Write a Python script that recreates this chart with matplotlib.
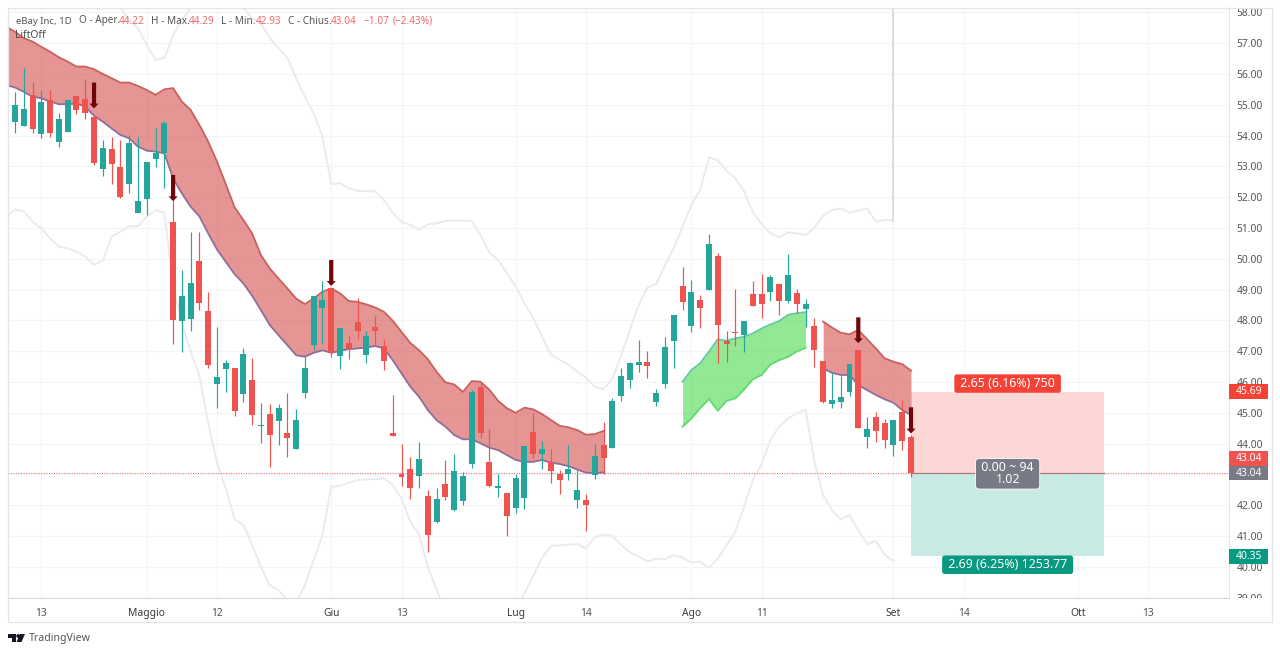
import numpy as np
import matplotlib
matplotlib.use("Agg")
import matplotlib.pyplot as plt
from matplotlib.patches import Rectangle, Polygon, Circle
from matplotlib.transforms import IdentityTransform, Bbox

plt.rcParams["font.family"] = ["Noto Sans", "DejaVu Sans"]

# candles, one row per day
opens = [53.95, 54.45, 54.32, 55.32, 54.04, 55.17, 53.79, 54.13, 55.28, 55.20,
         54.59, 52.90, 53.55, 52.97, 52.44, 51.48, 51.93, 53.24, 53.44, 51.19,
         47.98, 48.06, 49.94, 48.29, 45.94, 46.42, 46.46, 45.61, 46.06, 44.57,
         44.95, 44.72, 44.36, 43.83, 45.63, 47.20, 48.39, 49.04, 46.84, 47.28,
         47.96, 46.87, 47.79, 47.18, 44.34, 43.01, 43.18, 42.95, 42.30, 41.45,
         42.68, 41.85, 42.13, 43.33, 45.85, 43.39, 42.56, 42.40, 41.92, 42.24,
         44.37, 43.68, 43.41, 43.00, 43.02, 42.17, 42.18, 42.98, 43.95, 43.87,
         45.56, 46.07, 46.56, 46.66, 45.36, 45.92, 47.34, 49.12, 47.81, 48.66,
         48.99, 50.09, 47.33, 47.61, 47.53, 48.86, 48.86, 48.93, 49.17, 48.64,
         48.88, 48.37, 47.83, 46.68, 45.30, 45.36, 45.69, 47.03, 44.21, 44.85,
         44.68, 43.97, 45.04, 44.22]
highs = [54.34, 55.42, 56.18, 55.75, 55.48, 55.48, 54.72, 55.15, 55.28, 55.84,
         54.60, 53.85, 53.94, 53.85, 54.02, 53.96, 53.14, 54.23, 54.48, 51.90,
         49.63, 50.88, 50.86, 48.93, 47.79, 46.73, 46.46, 47.09, 46.77, 45.33,
         45.28, 45.30, 45.63, 45.12, 46.82, 48.79, 49.28, 49.04, 47.74, 47.52,
         48.73, 47.66, 48.14, 47.41, 45.58, 43.99, 43.58, 44.04, 42.49, 42.55,
         43.47, 43.65, 43.09, 45.74, 45.96, 44.46, 43.03, 42.40, 43.03, 43.92,
         44.98, 44.08, 43.81, 43.14, 43.95, 43.14, 42.35, 43.98, 44.71, 45.47,
         46.44, 46.66, 47.36, 47.02, 45.77, 47.47, 48.19, 49.72, 49.31, 48.83,
         50.81, 50.18, 47.66, 49.01, 47.99, 49.28, 49.50, 49.47, 49.17, 50.15,
         49.02, 48.68, 48.07, 46.68, 46.28, 46.20, 46.57, 47.03, 44.85, 45.04,
         44.79, 44.77, 45.42, 44.29]
lows = [53.85, 54.07, 54.32, 54.07, 53.93, 53.94, 53.64, 54.13, 54.70, 54.53,
        53.04, 52.69, 52.43, 51.96, 52.12, 51.48, 51.42, 52.99, 52.29, 47.25,
        46.98, 47.65, 48.33, 46.46, 45.17, 45.68, 44.90, 45.36, 44.60, 44.01,
        43.25, 43.95, 43.57, 43.83, 45.47, 47.03, 47.25, 46.80, 46.42, 46.74,
        47.41, 46.63, 47.25, 46.39, 44.25, 42.62, 42.19, 42.56, 40.49, 41.41,
        42.17, 41.82, 42.02, 43.20, 44.19, 42.58, 42.28, 41.00, 41.74, 41.87,
        43.52, 43.17, 42.71, 42.35, 42.83, 41.91, 41.17, 42.84, 43.03, 43.87,
        45.38, 45.80, 46.33, 46.12, 45.23, 45.82, 46.44, 48.34, 47.61, 47.74,
        48.99, 46.63, 46.66, 47.17, 46.99, 48.48, 48.09, 48.64, 48.18, 48.55,
        48.23, 47.77, 46.50, 45.31, 45.15, 45.15, 45.56, 44.50, 43.87, 44.06,
        43.87, 43.61, 43.79, 42.93]
closes = [54.20, 54.99, 54.86, 54.21, 55.10, 54.09, 54.53, 55.15, 54.83, 54.74,
          53.12, 53.61, 53.08, 52.00, 53.75, 51.88, 53.14, 53.44, 54.40, 48.01,
          48.79, 49.23, 48.57, 46.55, 46.15, 46.62, 45.05, 46.91, 44.92, 44.60,
          44.28, 45.17, 44.17, 44.78, 46.46, 48.79, 48.66, 46.95, 47.74, 47.07,
          47.65, 47.49, 47.64, 46.67, 44.25, 42.92, 42.55, 43.49, 41.05, 42.21,
          42.27, 43.12, 42.96, 45.67, 44.35, 42.63, 42.64, 41.64, 42.87, 43.92,
          43.68, 43.81, 43.11, 42.81, 43.18, 42.48, 42.00, 43.59, 43.55, 45.37,
          46.18, 46.63, 46.66, 46.53, 45.65, 47.15, 48.19, 48.59, 48.91, 48.39,
          50.47, 47.84, 47.25, 47.58, 47.99, 48.48, 48.53, 49.41, 48.64, 49.46,
          48.53, 48.52, 47.04, 45.35, 45.41, 45.51, 46.57, 44.50, 44.46, 44.41,
          44.12, 44.77, 44.08, 43.04]

# LiftOff bands
red1_top = [57.53, 57.37, 57.16, 57.05, 56.88, 56.72, 56.54, 56.40, 56.24, 56.24,
            56.15, 56.00, 55.86, 55.72, 55.72, 55.61, 55.48, 55.32, 55.50, 55.54,
            55.10, 54.83, 54.34, 53.80, 53.15, 52.42, 51.67, 51.26, 50.82, 50.12,
            49.69, 49.36, 49.04, 48.71, 48.53, 48.71, 48.93, 49.04, 48.88, 48.63,
            48.60, 48.52, 48.42, 48.28, 47.99, 47.63, 47.27, 47.03, 46.74, 46.33,
            45.99, 45.92, 45.68, 46.03, 46.01, 45.75, 45.39, 45.15, 45.00, 45.17,
            45.11, 44.96, 44.77, 44.58, 44.53, 44.44, 44.29, 44.31, 44.41]
red1_bot = [55.64, 55.56, 55.42, 55.26, 55.21, 55.10, 55.02, 55.02, 55.04, 54.94,
            54.64, 54.45, 54.23, 54.02, 53.91, 53.64, 53.51, 53.48, 53.42, 52.61,
            52.12, 51.69, 51.37, 50.82, 50.30, 49.90, 49.50, 49.20, 48.80, 48.33,
            47.85, 47.52, 47.20, 46.87, 46.82, 46.95, 47.03, 46.95, 47.01, 47.07,
            47.09, 47.12, 47.17, 47.09, 46.71, 46.28, 45.85, 45.52, 45.09, 44.76,
            44.55, 44.28, 44.14, 44.14, 44.01, 43.87, 43.79, 43.63, 43.47, 43.41,
            43.41, 43.47, 43.38, 43.34, 43.27, 43.16, 43.06, 43.04, 43.07]
green_top = [46.01, 46.39, 46.61, 46.99, 47.39, 47.34, 47.42, 47.47, 47.58, 47.74,
             47.87, 47.98, 48.18, 48.23, 48.27]
green_bot = [44.55, 44.82, 45.15, 45.45, 45.07, 45.39, 45.47, 45.76, 46.09, 46.23,
             46.57, 46.71, 46.82, 46.99, 47.11]
red2_top = [47.96, 47.77, 47.60, 47.55, 47.69, 47.39, 47.09, 46.77, 46.66, 46.58, 46.37]
red2_bot = [46.44, 46.30, 46.23, 46.23, 45.90, 45.74, 45.58, 45.44, 45.33, 45.09, 44.93]

# gray envelope, upper one starts at day 13
env_up = [58.14, 57.75, 57.49, 56.94, 56.46, 56.52, 57.27,
          57.75, 58.14, 58.60, 58.90, 59.00, 58.90, 58.50, 58.14, 57.82, 57.64,
          57.17, 56.84, 56.52, 55.87, 55.25, 54.73, 53.96, 52.43, 52.45, 52.29,
          52.20, 52.20, 52.19, 51.90, 51.50, 51.20, 51.10, 50.94, 51.12, 51.15,
          51.23, 51.24, 51.24, 51.23, 50.77, 50.20, 49.96, 49.53, 49.10, 48.55,
          48.07, 47.47, 46.90, 46.72, 46.57, 46.34, 46.15, 45.85, 45.77, 46.10,
          46.85, 47.70, 48.50, 49.07, 49.18, 49.80, 50.35, 51.04, 51.75, 52.25,
          53.29, 53.20, 52.86, 52.61, 52.20, 51.51, 51.13, 50.83, 50.70, 50.85,
          50.83, 50.77, 51.01, 51.40, 51.58, 51.64, 51.50, 51.56, 51.64, 51.20, 51.26, 51.24]
env_dn = [51.37, 51.60, 51.55, 51.20, 50.99, 50.66, 50.39, 50.34, 50.23, 50.07,
          49.80, 49.94, 50.72, 50.88, 51.06, 51.06, 51.37, 51.58, 51.50, 49.20,
          47.90, 47.00, 46.20, 44.66, 43.36, 42.55, 41.55, 41.36, 40.71, 40.00,
          39.40, 39.25, 38.90, 38.80, 39.41, 40.22, 41.03, 42.60, 42.63, 42.73,
          42.82, 42.84, 42.85, 42.88, 42.66, 42.22, 41.47, 41.05, 40.00, 39.25,
          38.50, 37.80, 37.50, 37.30, 37.30, 37.40, 37.60, 37.80, 38.60, 39.15,
          39.70, 40.30, 40.68, 40.70, 40.73, 40.74, 40.60, 40.96, 41.05, 41.01,
          40.72, 40.47, 40.33, 40.17, 40.27, 40.25, 40.38, 40.30, 40.14, 40.17,
          39.97, 40.27, 40.71, 41.14, 41.95, 42.82, 43.35, 44.12, 44.55, 44.82,
          44.98, 45.11, 43.41, 42.33, 41.84, 41.54, 41.68, 41.20, 40.74, 40.84, 40.40, 40.19]

# signal arrows: day, tail price, tip price
arrow_days = [10, 19, 37, 97, 103]
arrow_tails = [55.72, 52.72, 49.96, 48.10, 45.18]
arrow_tips = [54.88, 51.87, 49.12, 47.26, 44.33]

# axes labels
x_ticks = [4, 16, 24, 37, 45, 58, 66, 78, 86, 101, 109, 122, 130]
x_labels = ["13", "Maggio", "12", "Giu", "13", "Lug", "14", "Ago", "11", "Set", "14", "Ott", "13"]
months = ["Maggio", "Giu", "Lug", "Ago", "Set", "Ott"]
y_ticks = list(range(39, 59))

# position tool
stop_price = 45.69
entry_price = 43.04
target_price = 40.35
tool_start = 103
tool_end = 125

UP = "#26a69a"
DOWN = "#ef5350"
GRID = "#f3f4f7"
BORDER = "#e4e5e9"
ENV = "#ebebed"

fig = plt.figure(figsize=(12.8, 6.53), dpi=100)
ax = fig.add_axes([8 / 1280, (653 - 598) / 653, 1221 / 1280, 590 / 653])
ax.set_xlim(0.205, 139.2)
ax.set_ylim(38.99, 58.14)

ax.set_xticks(x_ticks)
ax.set_xticklabels(x_labels)
ax.set_yticks(y_ticks)
# 43.00 sits under the two price tags
ax.set_yticklabels(["" if v == 43 else "%.2f" % v for v in y_ticks])
ax.yaxis.tick_right()
ax.tick_params(axis="both", length=0, labelsize=7.4, labelcolor="#555555")
ax.tick_params(axis="x", pad=7)
ax.tick_params(axis="y", pad=5.5)
ax.grid(True, color=GRID, lw=0.8)
ax.set_axisbelow(True)
for s in ax.spines.values():
    s.set_visible(False)
ax.spines["bottom"].set_visible(True)
ax.spines["bottom"].set_color("#d6d8de")
ax.spines["right"].set_visible(True)
ax.spines["right"].set_color(BORDER)

for lab in ax.get_xticklabels():
    if lab.get_text() in months:
        lab.set_color("#3a3a3a")

# 39.00 gets cut by the time axis
for lab in ax.get_yticklabels():
    lab.set_clip_on(True)
    lab.set_clip_box(Bbox.from_extents(1229, 55, 1280, 653))

days = np.arange(len(opens))

# envelope
ax.plot(days[13:13 + len(env_up)], env_up, color=ENV, lw=1.4, zorder=1.5)
ax.plot(days[:len(env_dn)], env_dn, color=ENV, lw=1.4, zorder=1.5)
ax.plot([101, 101], [env_up[-1], 60], color="#dcdce0", lw=1.4, zorder=1.5)

# bands
x1 = days[:len(red1_top)]
ax.fill_between(x1, red1_bot, red1_top, color="#d33f3f", alpha=0.55, lw=0, zorder=2)
ax.plot(x1, red1_top, color="#c9605f", lw=1.3, zorder=2.1)
ax.plot(x1, red1_bot, color="#8d6e9c", lw=1.3, zorder=2.1)

x2 = days[77:77 + len(green_top)]
ax.fill_between(x2, green_bot, green_top, color="#3bd63b", alpha=0.55, lw=0, zorder=2)
ax.plot(x2, green_top, color="#63c8a2", lw=1.3, zorder=2.1)
ax.plot(x2, green_bot, color="#5fdc6c", lw=1.3, zorder=2.1)

x3 = days[93:93 + len(red2_top)]
ax.fill_between(x3, red2_bot, red2_top, color="#d33f3f", alpha=0.55, lw=0, zorder=2)
ax.plot(x3, red2_top, color="#c9605f", lw=1.3, zorder=2.1)
ax.plot(x3, red2_bot, color="#8d6e9c", lw=1.3, zorder=2.1)

# position tool
ax.add_patch(Rectangle((tool_start, entry_price), tool_end - tool_start, stop_price - entry_price,
                       color="#fdd7d5", lw=0, zorder=1.8))
ax.add_patch(Rectangle((tool_start, target_price), tool_end - tool_start, entry_price - target_price,
                       color="#c9e9e5", lw=0, zorder=1.8))
ax.plot([tool_start, tool_end], [entry_price, entry_price], color="#8a8a94", lw=0.9, zorder=1.9)
ax.axhline(entry_price, color="#f0535a", lw=0.7, ls=(0, (1, 1.6)), zorder=1.9)

# candles
colors = [UP if c >= o else DOWN for o, c in zip(opens, closes)]
ax.vlines(days, lows, highs, colors=colors, lw=0.85, zorder=3)
bottoms = np.minimum(opens, closes)
heights = np.maximum(np.abs(np.array(closes) - np.array(opens)), 0.05)
ax.bar(days, heights, bottom=bottoms, width=0.68, color=colors, lw=0, zorder=3.1)

# arrows
for d, t0, t1 in zip(arrow_days, arrow_tails, arrow_tips):
    ax.annotate("", xy=(d, t1), xytext=(d, t0), zorder=4,
                arrowprops=dict(facecolor="#6e0508", edgecolor="none", width=3, headwidth=6.5,
                                headlength=3.5, shrink=0))

# tool labels
mid = (tool_start + tool_end) / 2
ax.text(mid, 45.95, " 2.65 (6.16%) 750 ", color="white", fontsize=8.9, ha="center", va="center", zorder=5,
        bbox=dict(boxstyle="round,pad=0.22,rounding_size=0.2", fc="#f44336", ec="none"))
ax.text(mid, 43.02, " 0.00 ~ 94 \n1.02", color="white", fontsize=8.9, ha="center", va="center", zorder=5,
        linespacing=0.9,
        bbox=dict(boxstyle="round,pad=0.22,rounding_size=0.3", fc="#787b86", ec="white", lw=0.6))
ax.text(mid, 40.07, " 2.69 (6.25%) 1253.77 ", color="white", fontsize=8.9, ha="center", va="center", zorder=5,
        bbox=dict(boxstyle="round,pad=0.22,rounding_size=0.2", fc="#089981", ec="none"))

# price tags on the scale
tag_prices = [45.69, 43.04, 43.04, 40.35]
tag_pos = [45.69, 43.52, 43.04, 40.33]
tag_cols = ["#f44336", "#ef5350", "#787b86", "#089981"]
tr = ax.get_yaxis_transform()
for p, y, col in zip(tag_prices, tag_pos, tag_cols):
    ax.add_patch(Rectangle((1.0, y - 0.235), 0.032, 0.47, transform=tr, color=col, lw=0,
                           clip_on=False, zorder=6))
    ax.text(1.016, y, "%.2f" % p, transform=tr, color="white", fontsize=7.4, ha="center", va="center",
            clip_on=False, zorder=7)

# legend line
legend_x = [15.5, 79, 119, 151, 189, 221, 255.5, 287.5, 331, 364, 392.5]
legend_txt = ["eBay Inc, 1D", "O - Aper.", "44.22", "H - Max.", "44.29", "L - Min.", "42.93",
              "C - Chius.", "43.04", "\u22121.07", "(\u22122.43%)"]
legend_col = ["#555555", "#555555", "#ef6a6a", "#555555", "#ef6a6a", "#555555", "#ef6a6a",
              "#555555", "#ef6a6a", "#ef6a6a", "#ef6a6a"]
legend_size = [6.9] + [7.2] * 10
for x, t, c, fs in zip(legend_x, legend_txt, legend_col, legend_size):
    fig.text(x / 1280, 1 - 21 / 653, t, color=c, fontsize=fs, va="center")
fig.text(15.5 / 1280, 1 - 35 / 653, "LiftOff", color="#4a4a4a", fontsize=7.4, va="center")

# outer frame
fig.add_artist(Rectangle((8, 653 - 622), 1264, 614, transform=IdentityTransform(),
                         fill=False, ec=BORDER, lw=0.9))

# TradingView mark
H = 653
logo = [Polygon([(8, H - 634), (16, H - 634), (16, H - 642), (12, H - 642), (12, H - 638), (8, H - 638)]),
        Circle((18.2, H - 636), 1.9),
        Polygon([(20, H - 634), (25, H - 634), (21.5, H - 642), (16.5, H - 642)])]
for p in logo:
    p.set_transform(IdentityTransform())
    p.set_facecolor("#131722")
    p.set_edgecolor("none")
    fig.add_artist(p)
fig.text(29 / 1280, 1 - 638 / 653, "TradingView", color="#555555", fontsize=7.6, va="center")

fig.savefig("out.png", dpi=100)
